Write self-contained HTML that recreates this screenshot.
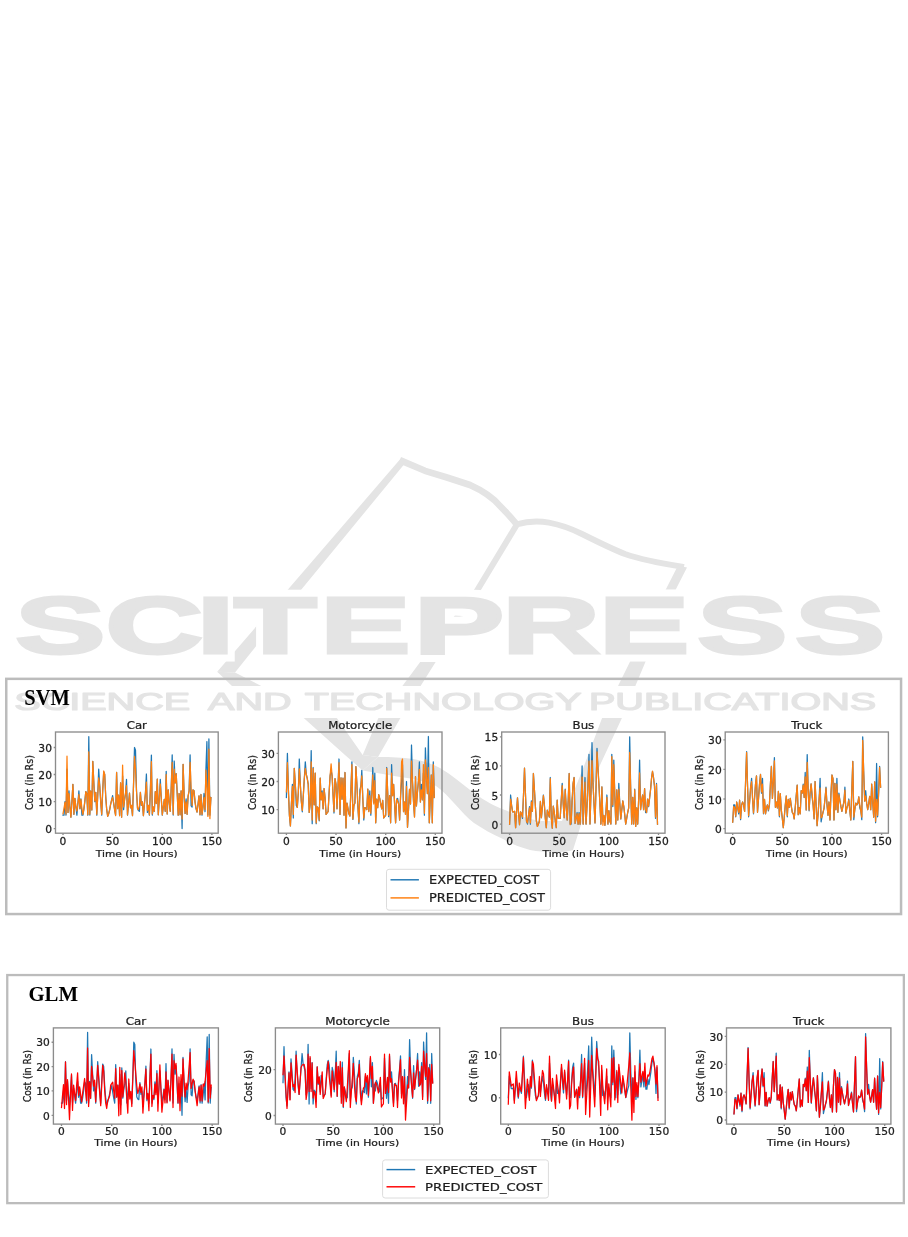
<!DOCTYPE html>
<html lang="en">
<head>
<meta charset="utf-8">
<title>SVM and GLM cost prediction</title>
<style>
html,body{margin:0;padding:0;background:#fff;}
body{width:908px;height:1237px;position:relative;overflow:hidden;font-family:"Liberation Serif",serif;}
svg{position:absolute;left:0;top:0;display:block;}
.fig{filter:blur(0.35px);}
.wm{filter:blur(0.5px);}
.fig text{stroke:#1e1e1e;stroke-width:0.25px;}
.fig text.lab{stroke:none;}
</style>
</head>
<body>
<svg class="wm" width="908" height="1237" viewBox="0 0 908 1237" aria-hidden="true">
<defs><filter id="halo" filterUnits="userSpaceOnUse" x="-20" y="-120" width="600" height="200"><feMorphology in="SourceAlpha" operator="dilate" radius="4 7" result="d"/><feFlood flood-color="#ffffff" result="w"/><feComposite in="w" in2="d" operator="in" result="h"/><feMerge><feMergeNode in="h"/><feMergeNode in="SourceGraphic"/></feMerge></filter></defs>
<g fill="none" stroke="#e4e4e4" stroke-linejoin="round" stroke-linecap="butt">
<path d="M402.8 461.4 L425 470.8 L447 477.5 L470 485 Q490 494 500 506 Q510 516 516.6 524.2" stroke-width="6.6" stroke-linecap="square"/>
<path d="M516.6 524.4 C528 521 540 521 549 522.6 C562 525 572 529 582 534 C598 542 612 549 625 554 C645 561 665 564 684 567" stroke-width="6"/>
</g>
<g fill="#e4e4e4" stroke="none">
<path d="M401.4 457.7 L217.2 671.8 L235 672.5 L301.8 589 L404 464.5 Z"/>
<path d="M217.2 671.8 L231.7 685.7 L304 718.2 L345 755 L362.7 770.5 L378 757 L362.7 755 L337 718.2 L260.8 685.7 L235 672.5 Z"/>
<path d="M514 523.5 L519.5 526 L481.5 589 L400 718.7 L378 757 L362.7 755 L378 718.7 L474.5 589 Z"/>
<path d="M378 757 C392 757 402 757.5 413 759 C424 761 432 764 440 768 C452 775 462 784 474 793 C485 801 494 806 505 810 C517 815 528 819 540 821 L562 821 L573 850 C566 852 560 852.5 553 852 C545 852 538 851.5 530 850 C520 847 511 844 503 839 C492 834 483 829 474 823 C461 813 450 796 436 786 C424 781 412 778 400 777 L362.7 770.5 Z"/>
<path d="M678 565.5 L687 567.5 L676 589 L621.6 718.7 L599.6 766 L573 850 L553 852 L562 821 L584 766 L601.8 718.7 L666 589 Z"/>
</g>
<rect x="0" y="686" width="908" height="32" fill="#ffffff"/>
<text transform="translate(0 653.2) scale(1.7 1)" x="9 62.1 115.7 137.6 188.4 243.5 295.5 352.4 410.1 467.6" y="0" font-family="'Liberation Sans',sans-serif" font-weight="bold" font-size="79.5" fill="#e4e4e4" stroke="#e4e4e4" stroke-width="4.0" vector-effect="non-scaling-stroke" stroke-linejoin="miter" filter="url(#halo)">SCITEPRESS</text>
<text transform="translate(0 710.2) scale(1.642 1)" y="0" font-family="'Liberation Sans',sans-serif" font-size="24.1" fill="#e4e4e4" stroke="#e4e4e4" stroke-width="1.2" vector-effect="non-scaling-stroke" stroke-linejoin="round"><tspan x="8.7">SCIENCE</tspan> <tspan x="126.7">AND</tspan> <tspan x="185.6">TECHNOLOGY</tspan> <tspan x="358.7">PUBLICATIONS</tspan></text>
</svg>
<svg class="fig" width="908" height="1237" viewBox="0 0 908 1237" font-family="'DejaVu Sans','Liberation Sans',sans-serif">
<rect x="6.25" y="678.85" width="894.8" height="235.2" fill="none" stroke="#bcbcbc" stroke-width="2.5"/>
<rect x="7.25" y="975.05" width="896.6" height="228.1" fill="none" stroke="#bcbcbc" stroke-width="2.3"/>
<g class="chart" id="svm-car">
<polyline points="63,815.1 64,815.1 65,801.6 66,815.1 67,769.1 68,812.4 69,790.8 69.9,807 70.9,817.2 71.9,801.6 72.9,784.3 73.9,814.3 74.9,798.3 75.9,807 76.9,815.1 77.9,802.9 78.9,790.8 79.9,808.6 80.9,798.9 81.9,815.1 82.9,815.1 83.8,809.7 84.8,801.6 85.8,791.6 86.8,793.5 87.8,815.1 88.8,736.7 89.8,815.1 90.8,791 91.8,809.9 92.8,761.3 93.8,782.6 94.8,801.6 95.8,792.4 96.8,815.1 97.7,796.2 98.7,769.1 99.7,785.4 100.7,801.6 101.7,815.1 102.7,790.8 103.7,771.8 104.7,774.5 105.7,796.2 106.7,809.7 107.7,816.4 108.7,813.7 109.7,809.7 110.6,804.3 111.6,800.2 112.6,795.6 113.6,802.9 114.6,809.7 115.6,815.1 116.6,772.4 117.6,808.6 118.6,795.1 119.6,815.6 120.6,782.9 121.6,817.2 122.6,775.9 123.6,809.7 124.5,800.2 125.5,793.5 126.5,779.4 127.5,815.1 128.5,804.3 129.5,793.2 130.5,807.8 131.5,805.4 132.5,815.6 133.5,785.4 134.5,747.5 135.5,750.2 136.5,790.8 137.5,808.3 138.4,810.5 139.4,811.3 140.4,792.4 141.4,805.4 142.4,801.8 143.4,815.6 144.4,804.3 145.4,793.5 146.4,774 147.4,812.4 148.4,805.4 149.4,815.1 150.4,788.1 151.4,755.1 152.3,815.1 153.3,807 154.3,811.3 155.3,791.6 156.3,803.5 157.3,779.1 158.3,814.8 159.3,798.9 160.3,779.4 161.3,798.9 162.3,815.1 163.3,807 164.3,799.4 165.2,811.3 166.2,771.3 167.2,814 168.2,789.9 169.2,801.6 170.2,811.3 171.2,788.1 172.2,754.8 173.2,815.1 174.2,761 175.2,782.9 176.2,773.7 177.2,793.5 178.2,815.1 179.1,793.5 180.1,814.8 181.1,790.8 182.1,828.6 183.1,764.3 184.1,793.5 185.1,813.5 186.1,798.9 187.1,814.3 188.1,796.2 189.1,790.8 190.1,754.8 191.1,805.9 192.1,807 193,789.9 194,790.8 195,801.6 196,808.3 197,812.1 198,804.3 199,795.9 200,814.8 201,794.5 202,815.1 203,807 204,793.5 205,811.6 205.9,770.2 206.9,741.6 207.9,815.1 208.9,738.9 209.9,815.1 210.9,797.5" fill="none" stroke="#1f77b4" stroke-width="1.25" stroke-linejoin="round" stroke-linecap="square"/>
<polyline points="63,813.7 64,808.3 65,802.4 66,814 67,756.2 68,812.4 69,793.5 69.9,807 70.9,817.2 71.9,801.6 72.9,784.3 73.9,814.3 74.9,798.3 75.9,807 76.9,811 77.9,802.9 78.9,794.5 79.9,808.6 80.9,799.4 81.9,808.3 82.9,814.3 83.8,809.7 84.8,801.6 85.8,791.6 86.8,793.5 87.8,814.8 88.8,751.8 89.8,814.3 90.8,791 91.8,809.9 92.8,761.3 93.8,782.6 94.8,801 95.8,792.4 96.8,814.3 97.7,796.2 98.7,777.8 99.7,785.4 100.7,801.6 101.7,814.3 102.7,790.8 103.7,771 104.7,774.5 105.7,796.2 106.7,809.7 107.7,816.4 108.7,813.7 109.7,809.7 110.6,804.3 111.6,800.2 112.6,797.5 113.6,802.9 114.6,809.7 115.6,815.6 116.6,772.4 117.6,808.6 118.6,795.1 119.6,815.6 120.6,782.9 121.6,817.2 122.6,765.1 123.6,807 124.5,800.2 125.5,793.5 126.5,785.6 127.5,814.8 128.5,804.3 129.5,793.2 130.5,807.8 131.5,805.4 132.5,815.6 133.5,785.4 134.5,756.4 135.5,769.1 136.5,790.8 137.5,808.3 138.4,809.7 139.4,805.6 140.4,792.4 141.4,805.4 142.4,801.8 143.4,815.6 144.4,804.3 145.4,793.5 146.4,782.1 147.4,810.5 148.4,805.4 149.4,814.8 150.4,789.9 151.4,761.6 152.3,814 153.3,807 154.3,811.3 155.3,791.6 156.3,803.5 157.3,779.1 158.3,814.8 159.3,798.9 160.3,784 161.3,798.9 162.3,814.8 163.3,807 164.3,799.4 165.2,811.3 166.2,774.5 167.2,814 168.2,789.9 169.2,801.6 170.2,811.3 171.2,788.1 172.2,762.4 173.2,814.3 174.2,769.1 175.2,782.9 176.2,773.7 177.2,793.5 178.2,815.1 179.1,793.5 180.1,814.8 181.1,790.8 182.1,819.1 183.1,764.3 184.1,793.5 185.1,813.5 186.1,801.8 187.1,814.3 188.1,796.2 189.1,790.8 190.1,762.4 191.1,788.1 192.1,805.4 193,789.9 194,790.8 195,801.6 196,808.3 197,812.1 198,804.3 199,795.9 200,814.8 201,794.5 202,814.3 203,807 204,797.5 205,809.7 205.9,770.2 206.9,788.1 207.9,816.4 208.9,749.1 209.9,818.6 210.9,797.5" fill="none" stroke="#ff7f0e" stroke-width="1.25" stroke-linejoin="round" stroke-linecap="square"/>
<rect x="55.5" y="732" width="162.7" height="101.2" fill="none" stroke="#8c8c8c" stroke-width="1.35"/>
<text transform="translate(63 844.9) scale(1.04 1)" font-size="10.3" text-anchor="middle" fill="#1e1e1e">0</text>
<text transform="translate(112.6 844.9) scale(1.04 1)" font-size="10.3" text-anchor="middle" fill="#1e1e1e">50</text>
<text transform="translate(162.3 844.9) scale(1.04 1)" font-size="10.3" text-anchor="middle" fill="#1e1e1e">100</text>
<text transform="translate(211.9 844.9) scale(1.04 1)" font-size="10.3" text-anchor="middle" fill="#1e1e1e">150</text>
<text transform="translate(52 833.1) scale(1.04 1)" font-size="10.3" text-anchor="end" fill="#1e1e1e">0</text>
<text transform="translate(52 806) scale(1.04 1)" font-size="10.3" text-anchor="end" fill="#1e1e1e">10</text>
<text transform="translate(52 779) scale(1.04 1)" font-size="10.3" text-anchor="end" fill="#1e1e1e">20</text>
<text transform="translate(52 752) scale(1.04 1)" font-size="10.3" text-anchor="end" fill="#1e1e1e">30</text>
<path d="M63 833.2v1.8M112.6 833.2v1.8M162.3 833.2v1.8M211.9 833.2v1.8M55.5 828.6h-1.8M55.5 801.6h-1.8M55.5 774.5h-1.8M55.5 747.5h-1.8" stroke="#8c8c8c" stroke-width="1.35" fill="none"/>
<text transform="translate(136.8 729) scale(1.114 1)" font-size="10.56" text-anchor="middle" fill="#1e1e1e">Car</text>
<text transform="translate(136.8 856.5) scale(1.114 1)" font-size="9.55" text-anchor="middle" fill="#1e1e1e">Time (in Hours)</text>
<text transform="translate(33 782.6) scale(1.114 1) rotate(-90)" font-size="9.55" text-anchor="middle" fill="#1e1e1e">Cost (in Rs)</text>
</g>
<g class="chart" id="svm-motorcycle">
<polyline points="286.4,797.5 287.4,753.4 288.4,789.9 289.4,815.2 290.4,825.9 291.4,804 292.4,784.3 293.3,818 294.3,768.3 295.3,784.3 296.3,805.4 297.3,807.4 298.3,792.7 299.3,759 300.3,784.3 301.3,801.2 302.3,811.8 303.3,795.6 304.3,778.7 305.3,761.8 306.3,774.5 307.2,778.1 308.2,784.3 309.2,812.4 310.2,804 311.2,750.6 312.2,823.7 313.2,767.5 314.2,804.8 315.2,773.1 316.2,823.7 317.2,806.8 318.2,808.2 319.2,820.8 320.2,778.1 321.1,799.8 322.1,790.8 323.1,808.8 324.1,788.5 325.1,798.4 326.1,814.4 327.1,813 328.1,811.6 329.1,792.7 330.1,775.9 331.1,770.3 332.1,775.9 333.1,795.6 334,813 335,778.7 336,784.3 337,808.8 338,787.1 339,759 340,814.4 341,777.8 342,799.2 343,778.1 344,815.2 345,772.5 346,827.9 347,803.1 347.9,808.2 348.9,813.8 349.9,816.1 350.9,789.9 351.9,761.8 352.9,819.4 353.9,805.4 354.9,803.1 355.9,766.6 356.9,784.3 357.9,806.8 358.9,823.7 359.9,789.9 360.9,785.7 361.8,770.3 362.8,798.4 363.8,820 364.8,807.6 365.8,808.2 366.8,809.6 367.8,789.1 368.8,811.3 369.8,790.8 370.8,815.2 371.8,795.6 372.8,767.5 373.8,802.6 374.8,773.1 375.7,822.8 376.7,799.2 377.7,807.6 378.7,794.7 379.7,798.4 380.7,804 381.7,808.8 382.7,800.3 383.7,818 384.7,816.6 385.7,815.2 386.7,767.5 387.7,792.7 388.6,816.6 389.6,795.6 390.6,822.8 391.6,764.6 392.6,795.6 393.6,784.3 394.6,804 395.6,822.8 396.6,799.2 397.6,798.4 398.6,804 399.6,820 400.6,795.6 401.6,781.5 402.5,764.6 403.5,811.6 404.5,802 405.5,814.4 406.5,781.5 407.5,827.3 408.5,809.6 409.5,789.9 410.5,804 411.5,745 412.5,781.5 413.5,801.2 414.5,816.6 415.5,776.7 416.4,805.9 417.4,792.7 418.4,781.5 419.4,761.8 420.4,802 421.4,784.3 422.4,799.8 423.4,773.1 424.4,815.2 425.4,747.8 426.4,775.9 427.4,793.6 428.4,736.5 429.3,822.8 430.3,798.4 431.3,775 432.3,822.8 433.3,761.8 434.3,797.5" fill="none" stroke="#1f77b4" stroke-width="1.25" stroke-linejoin="round" stroke-linecap="square"/>
<polyline points="286.4,791.9 287.4,762.7 288.4,789.9 289.4,815.2 290.4,825.9 291.4,804 292.4,786.3 293.3,814.4 294.3,768.3 295.3,784.3 296.3,798.4 297.3,807.4 298.3,792.7 299.3,768.9 300.3,784.3 301.3,801.2 302.3,810.4 303.3,795.6 304.3,778.7 305.3,768.3 306.3,774.5 307.2,778.1 308.2,784.3 309.2,812.4 310.2,804 311.2,761.8 312.2,820 313.2,768.3 314.2,804.8 315.2,773.1 316.2,822.8 317.2,806.8 318.2,808.2 319.2,820 320.2,778.1 321.1,799.8 322.1,792.7 323.1,808.8 324.1,788.5 325.1,798.4 326.1,814.4 327.1,813 328.1,811.6 329.1,792.7 330.1,775.9 331.1,763.8 332.1,775.9 333.1,795.6 334,811.6 335,778.7 336,784.3 337,808.8 338,787.1 339,762.7 340,814.4 341,777.8 342,799.2 343,778.1 344,815.2 345,772.5 346,827.9 347,803.1 347.9,808.2 348.9,813.8 349.9,816.1 350.9,789.9 351.9,764.6 352.9,818.9 353.9,805.4 354.9,803.1 355.9,766.6 356.9,784.3 357.9,806.8 358.9,822.2 359.9,795.6 360.9,785.7 361.8,775.9 362.8,798.4 363.8,818 364.8,807.6 365.8,808.2 366.8,809.6 367.8,789.1 368.8,811.6 369.8,795.6 370.8,813.3 371.8,795.6 372.8,775 373.8,804 374.8,780.7 375.7,822.8 376.7,799.2 377.7,807.6 378.7,794.7 379.7,798.4 380.7,804 381.7,808.8 382.7,800.3 383.7,818 384.7,816.6 385.7,815.2 386.7,768.3 387.7,792.7 388.6,815.2 389.6,795.6 390.6,822.8 391.6,773.1 392.6,795.6 393.6,784.3 394.6,804 395.6,822.8 396.6,799.2 397.6,801.2 398.6,804 399.6,820 400.6,795.6 401.6,761.8 402.5,759 403.5,811.6 404.5,802 405.5,814.4 406.5,786.3 407.5,827.3 408.5,809.6 409.5,789.1 410.5,804 411.5,761 412.5,781.5 413.5,801.2 414.5,817.2 415.5,776.7 416.4,805.9 417.4,792.7 418.4,781.5 419.4,769.4 420.4,802 421.4,789.9 422.4,799.8 423.4,764.6 424.4,813.3 425.4,759.9 426.4,775.9 427.4,793.6 428.4,767.5 429.3,822.8 430.3,798.4 431.3,775 432.3,822.8 433.3,764.6 434.3,797.5" fill="none" stroke="#ff7f0e" stroke-width="1.25" stroke-linejoin="round" stroke-linecap="square"/>
<rect x="278.4" y="732" width="163.6" height="101.2" fill="none" stroke="#8c8c8c" stroke-width="1.35"/>
<text transform="translate(286.4 844.9) scale(1.04 1)" font-size="10.3" text-anchor="middle" fill="#1e1e1e">0</text>
<text transform="translate(336 844.9) scale(1.04 1)" font-size="10.3" text-anchor="middle" fill="#1e1e1e">50</text>
<text transform="translate(385.7 844.9) scale(1.04 1)" font-size="10.3" text-anchor="middle" fill="#1e1e1e">100</text>
<text transform="translate(435.3 844.9) scale(1.04 1)" font-size="10.3" text-anchor="middle" fill="#1e1e1e">150</text>
<text transform="translate(274.9 814.1) scale(1.04 1)" font-size="10.3" text-anchor="end" fill="#1e1e1e">10</text>
<text transform="translate(274.9 786) scale(1.04 1)" font-size="10.3" text-anchor="end" fill="#1e1e1e">20</text>
<text transform="translate(274.9 757.9) scale(1.04 1)" font-size="10.3" text-anchor="end" fill="#1e1e1e">30</text>
<path d="M286.4 833.2v1.8M336 833.2v1.8M385.7 833.2v1.8M435.3 833.2v1.8M278.4 809.6h-1.8M278.4 781.5h-1.8M278.4 753.4h-1.8" stroke="#8c8c8c" stroke-width="1.35" fill="none"/>
<text transform="translate(360.2 729) scale(1.114 1)" font-size="10.56" text-anchor="middle" fill="#1e1e1e">Motorcycle</text>
<text transform="translate(360.2 856.5) scale(1.114 1)" font-size="9.55" text-anchor="middle" fill="#1e1e1e">Time (in Hours)</text>
<text transform="translate(256 782.6) scale(1.114 1) rotate(-90)" font-size="9.55" text-anchor="middle" fill="#1e1e1e">Cost (in Rs)</text>
</g>
<g class="chart" id="svm-bus">
<polyline points="509.6,824.1 510.6,795 511.6,805.5 512.6,811.9 513.6,811.9 514.6,811.3 515.6,827.6 516.5,812.5 517.5,797.9 518.5,812.5 519.5,824.7 520.5,811.9 521.5,813.6 522.5,818.3 523.5,795 524.5,768.2 525.5,795 526.5,821.2 527.5,824.1 528.5,815.4 529.5,806.6 530.4,824.1 531.4,800.8 532.4,811.3 533.4,773.5 534.4,789.2 535.4,806.6 536.4,821.2 537.4,826.4 538.4,824.1 539.4,821.2 540.4,801.4 541.4,817.7 542.4,806.6 543.4,795 544.3,803.7 545.3,818.3 546.3,827.6 547.3,810.1 548.3,813.6 549.3,817.1 550.3,777.5 551.3,818.3 552.3,828.2 553.3,806.1 554.3,812.5 555.3,821.2 556.3,827.6 557.2,800.2 558.2,818.3 559.2,818.3 560.2,818.3 561.2,800.8 562.2,783.4 563.2,803.7 564.2,817.7 565.2,789.2 566.2,806.6 567.2,820 568.2,800.8 569.2,773.5 570.2,824.1 571.1,824.1 572.1,800.8 573.1,783.4 574.1,777.5 575.1,823.5 576.1,818.3 577.1,812.5 578.1,824.1 579.1,812.5 580.1,824.1 581.1,800.8 582.1,765.9 583.1,824.1 584.1,800.8 585,777.5 586,824.1 587,806.6 588,783.4 589,754.3 590,824.1 591,792.1 592,742.6 593,783.4 594,803.7 595,822.9 596,789.2 597,748.4 598,768.8 598.9,783.4 599.9,803.7 600.9,824.1 601.9,786.9 602.9,821.2 603.9,815.4 604.9,825.3 605.9,812.5 606.9,795 607.9,824.1 608.9,810.7 609.9,821.2 610.9,824.1 611.8,754.3 612.8,806.6 613.8,760.1 614.8,795 615.8,824.1 616.8,789.8 617.8,820 618.8,783.4 619.8,803.7 620.8,818.9 621.8,809.6 622.8,800.8 623.8,806.6 624.8,815.4 625.7,824.1 626.7,818.3 627.7,812.5 628.7,807.8 629.7,736.8 630.7,789.2 631.7,824.1 632.7,797.3 633.7,824.1 634.7,789.2 635.7,826.4 636.7,807.8 637.7,824.1 638.7,797.9 639.6,760.1 640.6,809.6 641.6,800.8 642.6,795 643.6,809.6 644.6,788.6 645.6,812.5 646.6,812.5 647.6,799.1 648.6,806.6 649.6,797.9 650.6,789.2 651.6,777.5 652.5,771.7 653.5,777.5 654.5,786.3 655.5,818.3 656.5,783.4 657.5,824.1" fill="none" stroke="#1f77b4" stroke-width="1.25" stroke-linejoin="round" stroke-linecap="square"/>
<polyline points="509.6,824.1 510.6,799.1 511.6,805.5 512.6,811.9 513.6,811.9 514.6,811.3 515.6,827.6 516.5,812.5 517.5,797.9 518.5,812.5 519.5,824.7 520.5,811.9 521.5,813.6 522.5,817.1 523.5,795 524.5,768.2 525.5,795 526.5,821.2 527.5,822.9 528.5,815.4 529.5,807.8 530.4,822.9 531.4,802 532.4,811.3 533.4,773.5 534.4,789.2 535.4,806.6 536.4,821.2 537.4,826.4 538.4,824.1 539.4,821.2 540.4,801.4 541.4,817.7 542.4,806.6 543.4,795.6 544.3,803.7 545.3,818.3 546.3,827.6 547.3,810.1 548.3,813.6 549.3,817.1 550.3,778.7 551.3,818.3 552.3,828.2 553.3,806.1 554.3,812.5 555.3,821.2 556.3,827.6 557.2,800.2 558.2,818.3 559.2,818.3 560.2,818.3 561.2,800.8 562.2,785.7 563.2,803.7 564.2,817.7 565.2,789.8 566.2,806.6 567.2,820 568.2,800.8 569.2,773.5 570.2,824.7 571.1,822.4 572.1,800.8 573.1,783.4 574.1,777.5 575.1,823.5 576.1,818.3 577.1,813.6 578.1,824.1 579.1,813.6 580.1,824.1 581.1,800.8 582.1,777 583.1,824.1 584.1,800.8 585,782.2 586,824.1 587,806.6 588,783.4 589,761.2 590,824.1 591,792.1 592,760.7 593,783.4 594,803.7 595,822.9 596,789.2 597,751.9 598,768.8 598.9,784.5 599.9,803.7 600.9,824.1 601.9,786.9 602.9,825.3 603.9,815.4 604.9,825.3 605.9,812.5 606.9,797.3 607.9,824.1 608.9,810.7 609.9,821.2 610.9,824.1 611.8,756.6 612.8,804.9 613.8,764.7 614.8,795 615.8,824.1 616.8,789.8 617.8,820 618.8,789.2 619.8,803.7 620.8,818.9 621.8,809.6 622.8,800.8 623.8,806.6 624.8,815.4 625.7,824.1 626.7,818.3 627.7,812.5 628.7,807.8 629.7,752.5 630.7,789.2 631.7,824.1 632.7,797.3 633.7,824.1 634.7,789.8 635.7,826.4 636.7,807.8 637.7,824.1 638.7,797.9 639.6,772.9 640.6,809.6 641.6,800.8 642.6,795 643.6,809.6 644.6,788.6 645.6,809.6 646.6,812.5 647.6,799.1 648.6,806.1 649.6,797.9 650.6,789.2 651.6,777.5 652.5,771.1 653.5,777.5 654.5,786.3 655.5,817.1 656.5,784.5 657.5,824.1" fill="none" stroke="#ff7f0e" stroke-width="1.25" stroke-linejoin="round" stroke-linecap="square"/>
<rect x="501.7" y="732" width="163.3" height="101.2" fill="none" stroke="#8c8c8c" stroke-width="1.35"/>
<text transform="translate(509.6 844.9) scale(1.04 1)" font-size="10.3" text-anchor="middle" fill="#1e1e1e">0</text>
<text transform="translate(559.2 844.9) scale(1.04 1)" font-size="10.3" text-anchor="middle" fill="#1e1e1e">50</text>
<text transform="translate(608.9 844.9) scale(1.04 1)" font-size="10.3" text-anchor="middle" fill="#1e1e1e">100</text>
<text transform="translate(658.5 844.9) scale(1.04 1)" font-size="10.3" text-anchor="middle" fill="#1e1e1e">150</text>
<text transform="translate(498.2 828.6) scale(1.04 1)" font-size="10.3" text-anchor="end" fill="#1e1e1e">0</text>
<text transform="translate(498.2 799.5) scale(1.04 1)" font-size="10.3" text-anchor="end" fill="#1e1e1e">5</text>
<text transform="translate(498.2 770.4) scale(1.04 1)" font-size="10.3" text-anchor="end" fill="#1e1e1e">10</text>
<text transform="translate(498.2 741.3) scale(1.04 1)" font-size="10.3" text-anchor="end" fill="#1e1e1e">15</text>
<path d="M509.6 833.2v1.8M559.2 833.2v1.8M608.9 833.2v1.8M658.5 833.2v1.8M501.7 824.1h-1.8M501.7 795h-1.8M501.7 765.9h-1.8M501.7 736.8h-1.8" stroke="#8c8c8c" stroke-width="1.35" fill="none"/>
<text transform="translate(583.4 729) scale(1.114 1)" font-size="10.56" text-anchor="middle" fill="#1e1e1e">Bus</text>
<text transform="translate(583.4 856.5) scale(1.114 1)" font-size="9.55" text-anchor="middle" fill="#1e1e1e">Time (in Hours)</text>
<text transform="translate(479 782.6) scale(1.114 1) rotate(-90)" font-size="9.55" text-anchor="middle" fill="#1e1e1e">Cost (in Rs)</text>
</g>
<g class="chart" id="svm-truck">
<polyline points="732.7,822.1 733.7,804.9 734.7,804.9 735.7,816.8 736.7,802 737.7,807.9 738.7,813.8 739.6,800.2 740.6,819.7 741.6,804.9 742.6,802 743.6,804.9 744.6,811.4 745.6,781.2 746.6,751.6 747.6,787.2 748.6,816.8 749.6,802 750.6,787.2 751.6,778.3 752.6,799 753.5,813.8 754.5,799 755.5,784.2 756.5,775.9 757.5,812.3 758.5,799 759.5,784.2 760.5,774.4 761.5,793.1 762.5,778.3 763.5,813.8 764.5,799.3 765.5,813.8 766.5,807.9 767.4,804.9 768.4,810.8 769.4,804.9 770.4,784.2 771.4,766.4 772.4,798.4 773.4,781.2 774.4,757.6 775.4,807.3 776.4,802 777.4,807.9 778.4,791.3 779.4,816.8 780.3,793.7 781.3,809.7 782.3,818.2 783.3,827.7 784.3,816.8 785.3,804.9 786.3,796 787.3,816.8 788.3,799.3 789.3,807.3 790.3,798.4 791.3,806.4 792.3,812.3 793.3,813.8 794.2,818.8 795.2,807.9 796.2,796 797.2,785.1 798.2,814.7 799.2,807.6 800.2,813.8 801.2,790.7 802.2,793.1 803.2,784.2 804.2,797.5 805.2,772.4 806.2,810 807.2,754.6 808.1,787.2 809.1,810.8 810.1,793.1 811.1,783.9 812.1,797.5 813.1,804.9 814.1,818.8 815.1,781.5 816.1,804.9 817.1,825.6 818.1,813.8 819.1,799 820.1,778.3 821.1,821.8 822,816.8 823,812.3 824,808.8 825,799 826,787.2 827,804.9 828,815.3 829,802 830,820 831,793.1 832,775 833,778.9 834,820 834.9,783.3 835.9,809.7 836.9,778.3 837.9,812.3 838.9,793.1 839.9,800.5 840.9,806.4 841.9,811.4 842.9,806.4 843.9,802 844.9,787.2 845.9,813.2 846.9,807.9 847.9,804.9 848.8,799 849.8,810.8 850.8,820 851.8,790.1 852.8,761.4 853.8,819.7 854.8,809.4 855.8,803.1 856.8,804.9 857.8,803.4 858.8,796.9 859.8,807.9 860.8,810.8 861.8,819.7 862.7,736.8 863.7,772.4 864.7,801.1 865.7,790.7 866.7,803.4 867.7,809.7 868.7,803.4 869.7,796.3 870.7,809.7 871.7,784.2 872.7,802 873.7,817.1 874.7,781.8 875.6,822.7 876.6,763.5 877.6,816.8 878.6,793.1 879.6,766.4 880.6,787.2" fill="none" stroke="#1f77b4" stroke-width="1.25" stroke-linejoin="round" stroke-linecap="square"/>
<polyline points="732.7,822.1 733.7,806.4 734.7,807.9 735.7,816.2 736.7,802 737.7,807.9 738.7,812.3 739.6,800.2 740.6,818.5 741.6,804.9 742.6,802 743.6,804.9 744.6,811.4 745.6,781.2 746.6,752.5 747.6,787.2 748.6,815.6 749.6,802 750.6,787.2 751.6,781.5 752.6,799 753.5,812.9 754.5,799 755.5,784.2 756.5,775.9 757.5,812.3 758.5,799 759.5,784.2 760.5,774.4 761.5,791.9 762.5,784.2 763.5,813.2 764.5,799.3 765.5,813.8 766.5,807.9 767.4,804.9 768.4,810 769.4,804.9 770.4,784.2 771.4,766.4 772.4,798.4 773.4,781.2 774.4,760.8 775.4,807.3 776.4,802 777.4,807.9 778.4,791.3 779.4,815.6 780.3,793.7 781.3,809.7 782.3,818.2 783.3,827.7 784.3,816.8 785.3,804.9 786.3,796 787.3,815.6 788.3,799.3 789.3,807.3 790.3,798.4 791.3,806.4 792.3,812.3 793.3,813.8 794.2,818.8 795.2,807.9 796.2,796 797.2,785.1 798.2,814.7 799.2,807.6 800.2,813.8 801.2,790.7 802.2,793.1 803.2,785.1 804.2,797.5 805.2,776.8 806.2,810 807.2,762.3 808.1,787.2 809.1,810 810.1,793.1 811.1,783.9 812.1,793.1 813.1,804.9 814.1,818.8 815.1,781.5 816.1,804.9 817.1,825.6 818.1,813.8 819.1,799 820.1,788 821.1,817.9 822,816.8 823,812.3 824,807.9 825,799 826,788 827,804.9 828,815.3 829,802 830,820 831,793.1 832,775 833,778.9 834,820 834.9,783.3 835.9,809.7 836.9,784.2 837.9,812.3 838.9,794.6 839.9,800.5 840.9,806.4 841.9,811.4 842.9,806.4 843.9,802 844.9,790.1 845.9,813.2 846.9,807.9 847.9,804.9 848.8,800.2 849.8,810.8 850.8,820 851.8,790.1 852.8,761.4 853.8,817.1 854.8,809.4 855.8,803.1 856.8,804.9 857.8,803.4 858.8,796.9 859.8,804.9 860.8,810.8 861.8,817.1 862.7,740.4 863.7,772.4 864.7,801.1 865.7,796 866.7,803.4 867.7,809.7 868.7,803.4 869.7,796.3 870.7,809.7 871.7,784.2 872.7,802 873.7,817.1 874.7,781.8 875.6,821.2 876.6,799.3 877.6,815.3 878.6,793.1 879.6,767.3 880.6,787.2" fill="none" stroke="#ff7f0e" stroke-width="1.25" stroke-linejoin="round" stroke-linecap="square"/>
<rect x="725.2" y="732" width="163.2" height="101.2" fill="none" stroke="#8c8c8c" stroke-width="1.35"/>
<text transform="translate(732.7 844.9) scale(1.04 1)" font-size="10.3" text-anchor="middle" fill="#1e1e1e">0</text>
<text transform="translate(782.3 844.9) scale(1.04 1)" font-size="10.3" text-anchor="middle" fill="#1e1e1e">50</text>
<text transform="translate(832 844.9) scale(1.04 1)" font-size="10.3" text-anchor="middle" fill="#1e1e1e">100</text>
<text transform="translate(881.6 844.9) scale(1.04 1)" font-size="10.3" text-anchor="middle" fill="#1e1e1e">150</text>
<text transform="translate(721.7 833.1) scale(1.04 1)" font-size="10.3" text-anchor="end" fill="#1e1e1e">0</text>
<text transform="translate(721.7 803.5) scale(1.04 1)" font-size="10.3" text-anchor="end" fill="#1e1e1e">10</text>
<text transform="translate(721.7 773.9) scale(1.04 1)" font-size="10.3" text-anchor="end" fill="#1e1e1e">20</text>
<text transform="translate(721.7 744.3) scale(1.04 1)" font-size="10.3" text-anchor="end" fill="#1e1e1e">30</text>
<path d="M732.7 833.2v1.8M782.3 833.2v1.8M832 833.2v1.8M881.6 833.2v1.8M725.2 828.6h-1.8M725.2 799h-1.8M725.2 769.4h-1.8M725.2 739.8h-1.8" stroke="#8c8c8c" stroke-width="1.35" fill="none"/>
<text transform="translate(806.8 729) scale(1.114 1)" font-size="10.56" text-anchor="middle" fill="#1e1e1e">Truck</text>
<text transform="translate(806.8 856.5) scale(1.114 1)" font-size="9.55" text-anchor="middle" fill="#1e1e1e">Time (in Hours)</text>
<text transform="translate(702.5 782.6) scale(1.114 1) rotate(-90)" font-size="9.55" text-anchor="middle" fill="#1e1e1e">Cost (in Rs)</text>
</g>
<g class="legend">
<rect x="386.5" y="869.3" width="164.1" height="40.9" rx="2.5" ry="2.5" fill="#ffffff" fill-opacity="0.8" stroke="#dcdcdc" stroke-width="1"/>
<line x1="390.5" y1="879.8" x2="418.9" y2="879.8" stroke="#1f77b4" stroke-width="1.45"/>
<text transform="translate(429 884.2) scale(1.114 1)" font-size="11.65" text-anchor="start" fill="#1e1e1e">EXPECTED_COST</text>
<line x1="390.5" y1="897.9" x2="418.9" y2="897.9" stroke="#ff7f0e" stroke-width="1.45"/>
<text transform="translate(429 902.3) scale(1.114 1)" font-size="11.65" text-anchor="start" fill="#1e1e1e">PREDICTED_COST</text>
</g>
<g class="chart" id="glm-car">
<polyline points="61.5,1103.1 62.5,1103.1 63.5,1090.9 64.5,1103.1 65.5,1061.7 66.5,1100.7 67.5,1081.2 68.5,1095.8 69.5,1105.1 70.5,1090.9 71.5,1075.3 72.5,1102.4 73.6,1088 74.6,1095.8 75.6,1103.1 76.6,1092.1 77.6,1081.2 78.6,1097.3 79.6,1088.5 80.6,1103.1 81.6,1103.1 82.6,1098.2 83.6,1090.9 84.6,1081.9 85.6,1083.6 86.6,1103.1 87.6,1032.4 88.6,1103.1 89.6,1081.4 90.6,1098.5 91.6,1054.6 92.6,1073.9 93.6,1090.9 94.6,1082.6 95.7,1103.1 96.7,1086.1 97.7,1061.7 98.7,1076.3 99.7,1090.9 100.7,1103.1 101.7,1081.2 102.7,1064.1 103.7,1066.6 104.7,1086.1 105.7,1098.2 106.7,1104.3 107.7,1101.9 108.7,1098.2 109.7,1093.4 110.7,1089.7 111.7,1085.6 112.7,1092.1 113.7,1098.2 114.7,1103.1 115.7,1064.6 116.7,1097.3 117.8,1085.1 118.8,1103.6 119.8,1074.1 120.8,1105.1 121.8,1067.8 122.8,1098.2 123.8,1089.7 124.8,1083.6 125.8,1070.9 126.8,1103.1 127.8,1093.4 128.8,1083.4 129.8,1096.5 130.8,1094.3 131.8,1103.6 132.8,1076.3 133.8,1042.2 134.8,1044.6 135.8,1081.2 136.8,1097 137.8,1099 138.8,1099.7 139.9,1082.6 140.9,1094.3 141.9,1091.2 142.9,1103.6 143.9,1093.4 144.9,1083.6 145.9,1066.1 146.9,1100.7 147.9,1094.3 148.9,1103.1 149.9,1078.7 150.9,1049 151.9,1103.1 152.9,1095.8 153.9,1099.7 154.9,1081.9 155.9,1092.6 156.9,1070.7 157.9,1102.9 158.9,1088.5 159.9,1070.9 160.9,1088.5 161.9,1103.1 163,1095.8 164,1089 165,1099.7 166,1063.6 167,1102.1 168,1080.5 169,1090.9 170,1099.7 171,1078.7 172,1048.8 173,1103.1 174,1054.4 175,1074.1 176,1065.8 177,1083.6 178,1103.1 179,1083.6 180,1102.9 181,1081.2 182,1115.3 183,1057.3 184,1083.6 185.1,1101.7 186.1,1088.5 187.1,1102.4 188.1,1086.1 189.1,1081.2 190.1,1048.8 191.1,1094.8 192.1,1095.8 193.1,1080.5 194.1,1081.2 195.1,1090.9 196.1,1097 197.1,1100.4 198.1,1093.4 199.1,1085.8 200.1,1102.9 201.1,1084.6 202.1,1103.1 203.1,1095.8 204.1,1083.6 205.1,1099.9 206.1,1062.7 207.2,1036.8 208.2,1103.1 209.2,1034.4 210.2,1103.1 211.2,1087.3" fill="none" stroke="#1f77b4" stroke-width="1.25" stroke-linejoin="round" stroke-linecap="square"/>
<polyline points="61.5,1107.5 62.5,1095.8 63.5,1084.6 64.5,1108.5 65.5,1061.9 66.5,1104.6 67.5,1079.7 68.5,1098.2 69.5,1119.7 70.5,1095.8 71.5,1073.9 72.5,1110.4 73.6,1085.1 74.6,1093.4 75.6,1100.7 76.6,1086.1 77.6,1072.9 78.6,1095.3 79.6,1086.8 80.6,1094.6 81.6,1101.9 82.6,1093.4 83.6,1086.1 84.6,1078.5 85.6,1090.9 86.6,1100.7 87.6,1048 88.6,1106.5 89.6,1082.2 90.6,1098.2 91.6,1066.3 92.6,1076.3 93.6,1086.1 94.6,1080.2 95.7,1101.9 96.7,1083.6 97.7,1065.3 98.7,1078.7 99.7,1093.4 100.7,1105.6 101.7,1086.1 102.7,1065.3 103.7,1071.4 104.7,1090.9 105.7,1103.1 106.7,1108.5 107.7,1100.7 108.7,1098.2 109.7,1095.8 110.7,1085.1 111.7,1083.6 112.7,1082.2 113.7,1090.9 114.7,1098.2 115.7,1068.5 116.7,1097 117.8,1085.1 118.8,1115.8 119.8,1067.3 120.8,1114.6 121.8,1070.5 122.8,1097 123.8,1086.1 124.8,1072.9 125.8,1081.2 126.8,1098.2 127.8,1113.1 128.8,1079 129.8,1099 130.8,1091.4 131.8,1106.5 132.8,1078.7 133.8,1050.7 134.8,1061.7 135.8,1073.9 136.8,1086.1 137.8,1093.4 138.8,1089.7 139.9,1084.1 140.9,1092.4 141.9,1086.8 142.9,1113.1 143.9,1098.2 144.9,1083.6 145.9,1069 146.9,1099 147.9,1093.4 148.9,1110.7 149.9,1077.5 150.9,1054.1 151.9,1106.5 152.9,1095.3 153.9,1098.2 154.9,1084.1 155.9,1094.6 156.9,1073.6 157.9,1111.2 158.9,1088.5 159.9,1064.9 160.9,1088.5 161.9,1112.1 163,1100.7 164,1089.7 165,1102.9 166,1071.9 167,1102.9 168,1080.2 169,1090.9 170,1100.9 171,1078.7 172,1054.1 173,1107.5 174,1060.7 175,1069 176,1063.4 177,1081.2 178,1102.9 179,1077 180,1110.7 181,1074.6 182,1096.3 183,1058.8 184,1078.7 185.1,1097 186.1,1083.1 187.1,1089.7 188.1,1080.2 189.1,1066.6 190.1,1052.7 191.1,1088.5 192.1,1083.6 193.1,1079.2 194.1,1081.2 195.1,1090.9 196.1,1098.2 197.1,1105.6 198.1,1095.8 199.1,1086.8 200.1,1100.9 201.1,1085.3 202.1,1100.9 203.1,1084.1 204.1,1086.1 205.1,1081.2 206.1,1071.4 207.2,1060.7 208.2,1101.9 209.2,1048.5 210.2,1098.2 211.2,1085.1" fill="none" stroke="#ff0000" stroke-width="1.25" stroke-linejoin="round" stroke-linecap="square"/>
<rect x="53.4" y="1027.9" width="165" height="96.2" fill="none" stroke="#8c8c8c" stroke-width="1.35"/>
<text transform="translate(61.5 1135.3) scale(1.1 1)" font-size="9.7" text-anchor="middle" fill="#1e1e1e">0</text>
<text transform="translate(111.7 1135.3) scale(1.1 1)" font-size="9.7" text-anchor="middle" fill="#1e1e1e">50</text>
<text transform="translate(161.9 1135.3) scale(1.1 1)" font-size="9.7" text-anchor="middle" fill="#1e1e1e">100</text>
<text transform="translate(212.2 1135.3) scale(1.1 1)" font-size="9.7" text-anchor="middle" fill="#1e1e1e">150</text>
<text transform="translate(49.9 1119.5) scale(1.1 1)" font-size="9.7" text-anchor="end" fill="#1e1e1e">0</text>
<text transform="translate(49.9 1095.2) scale(1.1 1)" font-size="9.7" text-anchor="end" fill="#1e1e1e">10</text>
<text transform="translate(49.9 1070.8) scale(1.1 1)" font-size="9.7" text-anchor="end" fill="#1e1e1e">20</text>
<text transform="translate(49.9 1046.4) scale(1.1 1)" font-size="9.7" text-anchor="end" fill="#1e1e1e">30</text>
<path d="M61.5 1124.1v1.8M111.7 1124.1v1.8M161.9 1124.1v1.8M212.2 1124.1v1.8M53.4 1115.3h-1.8M53.4 1090.9h-1.8M53.4 1066.6h-1.8M53.4 1042.2h-1.8" stroke="#8c8c8c" stroke-width="1.35" fill="none"/>
<text transform="translate(135.9 1025.3) scale(1.2 1)" font-size="9.9" text-anchor="middle" fill="#1e1e1e">Car</text>
<text transform="translate(135.9 1146.1) scale(1.2 1)" font-size="9.0" text-anchor="middle" fill="#1e1e1e">Time (in Hours)</text>
<text transform="translate(30.5 1076) scale(1.2 1) rotate(-90)" font-size="9.0" text-anchor="middle" fill="#1e1e1e">Cost (in Rs)</text>
</g>
<g class="chart" id="glm-motorcycle">
<polyline points="283,1082.7 284,1046.6 285,1076.5 286,1097.1 287,1105.9 288,1087.9 289,1071.9 290,1099.4 291,1058.8 292,1071.9 293,1089.1 294,1090.7 295.1,1078.7 296.1,1051.2 297.1,1071.9 298.1,1085.6 299.1,1094.4 300.1,1081 301.1,1067.3 302.1,1053.5 303.1,1063.8 304.1,1066.8 305.1,1071.9 306.1,1094.8 307.1,1087.9 308.1,1044.3 309.1,1104 310.1,1058.1 311.1,1088.6 312.1,1062.7 313.1,1104 314.1,1090.2 315.1,1091.4 316.1,1101.7 317.2,1066.8 318.2,1084.5 319.2,1077.1 320.2,1091.8 321.2,1075.3 322.2,1083.3 323.2,1096.4 324.2,1095.3 325.2,1094.1 326.2,1078.7 327.2,1065 328.2,1060.4 329.2,1065 330.2,1081 331.2,1095.3 332.2,1067.3 333.2,1071.9 334.2,1091.8 335.2,1074.2 336.2,1051.2 337.2,1096.4 338.2,1066.6 339.3,1084 340.3,1066.8 341.3,1097.1 342.3,1062.2 343.3,1107.5 344.3,1087.2 345.3,1091.4 346.3,1096 347.3,1097.8 348.3,1076.5 349.3,1053.5 350.3,1100.6 351.3,1089.1 352.3,1087.2 353.3,1057.4 354.3,1071.9 355.3,1090.2 356.3,1104 357.3,1076.5 358.3,1073 359.3,1060.4 360.3,1083.3 361.4,1101 362.4,1090.9 363.4,1091.4 364.4,1092.5 365.4,1075.8 366.4,1093.9 367.4,1077.1 368.4,1097.1 369.4,1081 370.4,1058.1 371.4,1086.8 372.4,1062.7 373.4,1103.3 374.4,1084 375.4,1090.9 376.4,1080.4 377.4,1083.3 378.4,1087.9 379.4,1091.8 380.4,1084.9 381.4,1099.4 382.4,1098.3 383.4,1097.1 384.5,1058.1 385.5,1078.7 386.5,1098.3 387.5,1081 388.5,1103.3 389.5,1055.8 390.5,1081 391.5,1071.9 392.5,1087.9 393.5,1103.3 394.5,1084 395.5,1083.3 396.5,1087.9 397.5,1101 398.5,1081 399.5,1069.6 400.5,1055.8 401.5,1094.1 402.5,1086.3 403.5,1096.4 404.5,1069.6 405.5,1107 406.6,1092.5 407.6,1076.5 408.6,1087.9 409.6,1039.7 410.6,1069.6 411.6,1085.6 412.6,1098.3 413.6,1065.7 414.6,1089.5 415.6,1078.7 416.6,1069.6 417.6,1053.5 418.6,1086.3 419.6,1071.9 420.6,1084.5 421.6,1062.7 422.6,1097.1 423.6,1042 424.6,1065 425.6,1079.4 426.6,1032.8 427.6,1103.3 428.7,1083.3 429.7,1064.3 430.7,1103.3 431.7,1053.5 432.7,1082.7" fill="none" stroke="#1f77b4" stroke-width="1.25" stroke-linejoin="round" stroke-linecap="square"/>
<polyline points="283,1074.6 284,1056 285,1074.2 286,1092.5 287,1108.4 288,1090.2 289,1072.8 290,1099.9 291,1062.9 292,1076.5 293,1086.8 294,1084.5 295.1,1092.5 296.1,1055.1 297.1,1069.6 298.1,1083.3 299.1,1094.4 300.1,1081 301.1,1067.3 302.1,1065.2 303.1,1064.5 304.1,1064.3 305.1,1069.6 306.1,1099.4 307.1,1092.5 308.1,1054.2 309.1,1091.6 310.1,1056.5 311.1,1091.6 312.1,1062.9 313.1,1098 314.1,1091.6 315.1,1094.8 316.1,1107.5 317.2,1066.8 318.2,1083.3 319.2,1076.9 320.2,1094.4 321.2,1083.3 322.2,1071.9 323.2,1098.5 324.2,1096 325.2,1093.4 326.2,1081 327.2,1069.6 328.2,1061.5 329.2,1076.5 330.2,1085.6 331.2,1097.1 332.2,1070.9 333.2,1081 334.2,1089.5 335.2,1076.5 336.2,1062.4 337.2,1096.2 338.2,1066.3 339.3,1084 340.3,1061.5 341.3,1103.3 342.3,1067.7 343.3,1106.5 344.3,1086.8 345.3,1094.8 346.3,1101.7 347.3,1087.9 348.3,1069.6 349.3,1050.7 350.3,1107.5 351.3,1092.5 352.3,1078.7 353.3,1063.4 354.3,1083.3 355.3,1097.1 356.3,1101.7 357.3,1078.5 358.3,1076.5 359.3,1064.3 360.3,1092.5 361.4,1104.7 362.4,1094.8 363.4,1088.2 364.4,1086.8 365.4,1073.7 366.4,1082.2 367.4,1075.5 368.4,1095.3 369.4,1076.5 370.4,1056.5 371.4,1078.7 372.4,1066.3 373.4,1103.3 374.4,1092.5 375.4,1082.2 376.4,1083.8 377.4,1087.9 378.4,1093 379.4,1085.6 380.4,1077.4 381.4,1107 382.4,1105.2 383.4,1103.8 384.5,1054.2 385.5,1093.4 386.5,1087.9 387.5,1077.4 388.5,1092.5 389.5,1054.2 390.5,1082.2 391.5,1078.7 392.5,1092.5 393.5,1106.5 394.5,1084 395.5,1085.2 396.5,1085.6 397.5,1107.5 398.5,1083.3 399.5,1071.9 400.5,1059.7 401.5,1098 402.5,1076.5 403.5,1103.8 404.5,1076.9 405.5,1120.1 406.6,1101.7 407.6,1084.9 408.6,1087.9 409.6,1057.4 410.6,1071.9 411.6,1085.6 412.6,1097.1 413.6,1072.8 414.6,1088.6 415.6,1078.7 416.6,1069.6 417.6,1060.1 418.6,1076.5 419.6,1085.9 420.6,1083.3 421.6,1066.3 422.6,1099.4 423.6,1051.2 424.6,1065 425.6,1076.5 426.6,1053.5 427.6,1100.8 428.7,1067.7 429.7,1070.9 430.7,1100.8 431.7,1064.3 432.7,1083.1" fill="none" stroke="#ff0000" stroke-width="1.25" stroke-linejoin="round" stroke-linecap="square"/>
<rect x="275.4" y="1027.9" width="164.3" height="96.2" fill="none" stroke="#8c8c8c" stroke-width="1.35"/>
<text transform="translate(283 1135.3) scale(1.1 1)" font-size="9.7" text-anchor="middle" fill="#1e1e1e">0</text>
<text transform="translate(333.2 1135.3) scale(1.1 1)" font-size="9.7" text-anchor="middle" fill="#1e1e1e">50</text>
<text transform="translate(383.4 1135.3) scale(1.1 1)" font-size="9.7" text-anchor="middle" fill="#1e1e1e">100</text>
<text transform="translate(433.7 1135.3) scale(1.1 1)" font-size="9.7" text-anchor="middle" fill="#1e1e1e">150</text>
<text transform="translate(271.9 1119.7) scale(1.1 1)" font-size="9.7" text-anchor="end" fill="#1e1e1e">0</text>
<text transform="translate(271.9 1073.8) scale(1.1 1)" font-size="9.7" text-anchor="end" fill="#1e1e1e">20</text>
<path d="M283 1124.1v1.8M333.2 1124.1v1.8M383.4 1124.1v1.8M433.7 1124.1v1.8M275.4 1115.5h-1.8M275.4 1069.6h-1.8" stroke="#8c8c8c" stroke-width="1.35" fill="none"/>
<text transform="translate(357.5 1025.3) scale(1.2 1)" font-size="9.9" text-anchor="middle" fill="#1e1e1e">Motorcycle</text>
<text transform="translate(357.5 1146.1) scale(1.2 1)" font-size="9.0" text-anchor="middle" fill="#1e1e1e">Time (in Hours)</text>
<text transform="translate(252 1076) scale(1.2 1) rotate(-90)" font-size="9.0" text-anchor="middle" fill="#1e1e1e">Cost (in Rs)</text>
</g>
<g class="chart" id="glm-bus">
<polyline points="508.3,1097.7 509.3,1076.1 510.3,1083.9 511.3,1088.6 512.3,1088.6 513.3,1088.2 514.3,1100.3 515.3,1089.1 516.3,1078.3 517.3,1089.1 518.3,1098.1 519.3,1088.6 520.4,1089.9 521.4,1093.4 522.4,1076.1 523.4,1056.2 524.4,1076.1 525.4,1095.5 526.4,1097.7 527.4,1091.2 528.4,1084.7 529.4,1097.7 530.4,1080.4 531.4,1088.2 532.4,1060.1 533.4,1071.8 534.4,1084.7 535.4,1095.5 536.4,1099.4 537.4,1097.7 538.4,1095.5 539.4,1080.9 540.4,1092.9 541.4,1084.7 542.5,1076.1 543.5,1082.6 544.5,1093.4 545.5,1100.3 546.5,1087.3 547.5,1089.9 548.5,1092.5 549.5,1063.1 550.5,1093.4 551.5,1100.7 552.5,1084.3 553.5,1089.1 554.5,1095.5 555.5,1100.3 556.5,1080 557.5,1093.4 558.5,1093.4 559.5,1093.4 560.5,1080.4 561.5,1067.5 562.5,1082.6 563.5,1092.9 564.6,1071.8 565.6,1084.7 566.6,1094.7 567.6,1080.4 568.6,1060.1 569.6,1097.7 570.6,1097.7 571.6,1080.4 572.6,1067.5 573.6,1063.1 574.6,1097.3 575.6,1093.4 576.6,1089.1 577.6,1097.7 578.6,1089.1 579.6,1097.7 580.6,1080.4 581.6,1054.5 582.6,1097.7 583.6,1080.4 584.6,1063.1 585.6,1097.7 586.7,1084.7 587.7,1067.5 588.7,1045.9 589.7,1097.7 590.7,1073.9 591.7,1037.2 592.7,1067.5 593.7,1082.6 594.7,1096.8 595.7,1071.8 596.7,1041.5 597.7,1056.7 598.7,1067.5 599.7,1082.6 600.7,1097.7 601.7,1070.1 602.7,1095.5 603.7,1091.2 604.7,1098.6 605.7,1089.1 606.7,1076.1 607.7,1097.7 608.8,1087.8 609.8,1095.5 610.8,1097.7 611.8,1045.9 612.8,1084.7 613.8,1050.2 614.8,1076.1 615.8,1097.7 616.8,1072.2 617.8,1094.7 618.8,1067.5 619.8,1082.6 620.8,1093.8 621.8,1086.9 622.8,1080.4 623.8,1084.7 624.8,1091.2 625.8,1097.7 626.8,1093.4 627.8,1089.1 628.8,1085.6 629.8,1032.9 630.8,1071.8 631.9,1097.7 632.9,1077.8 633.9,1097.7 634.9,1071.8 635.9,1099.4 636.9,1085.6 637.9,1097.7 638.9,1078.3 639.9,1050.2 640.9,1086.9 641.9,1080.4 642.9,1076.1 643.9,1086.9 644.9,1071.3 645.9,1089.1 646.9,1089.1 647.9,1079.1 648.9,1084.7 649.9,1078.3 650.9,1071.8 651.9,1063.1 652.9,1058.8 654,1063.1 655,1069.6 656,1093.4 657,1067.5 658,1097.7" fill="none" stroke="#1f77b4" stroke-width="1.25" stroke-linejoin="round" stroke-linecap="square"/>
<polyline points="508.3,1104.2 509.3,1071.8 510.3,1079.1 511.3,1086 512.3,1084.7 513.3,1083.9 514.3,1103.3 515.3,1086.9 516.3,1071.3 517.3,1084.7 518.3,1096.8 519.3,1083 520.4,1087.8 521.4,1091.7 522.4,1073.9 523.4,1057.5 524.4,1084.7 525.4,1108.5 526.4,1093.4 527.4,1079.1 528.4,1089.1 529.4,1100.3 530.4,1076.5 531.4,1086.9 532.4,1061.4 533.4,1064.4 534.4,1078.3 535.4,1091.2 536.4,1100.7 537.4,1097.7 538.4,1095.5 539.4,1076.5 540.4,1096.4 541.4,1082.6 542.5,1070.5 543.5,1073.9 544.5,1086.9 545.5,1099 546.5,1084.7 547.5,1092.5 548.5,1100.3 549.5,1056.2 550.5,1080.4 551.5,1101.2 552.5,1078.3 553.5,1086.9 554.5,1097.7 555.5,1108.5 556.5,1074.8 557.5,1084.7 558.5,1091.7 559.5,1102.9 560.5,1082.6 561.5,1064.4 562.5,1078.3 563.5,1089.5 564.6,1070.1 565.6,1084.7 566.6,1099 567.6,1080.4 568.6,1061.4 569.6,1108.9 570.6,1105.5 571.6,1084.7 572.6,1071.8 573.6,1067 574.6,1097.3 575.6,1093.4 576.6,1089.5 577.6,1108.9 578.6,1086.9 579.6,1095.5 580.6,1080.4 581.6,1063.6 582.6,1096.4 583.6,1078.3 584.6,1058.4 585.6,1114.5 586.7,1095.5 587.7,1078.3 588.7,1060.5 589.7,1117.1 590.7,1086.9 591.7,1055.4 592.7,1073.9 593.7,1091.2 594.7,1106.8 595.7,1078.3 596.7,1048.5 597.7,1058.8 598.7,1061.4 599.7,1089.1 600.7,1115.4 601.7,1065.3 602.7,1084.7 603.7,1095.5 604.7,1103.7 605.7,1086.9 606.7,1068.8 607.7,1109.8 608.8,1083.9 609.8,1095.5 610.8,1106.8 611.8,1058.4 612.8,1082.1 613.8,1057.5 614.8,1099.9 615.8,1084.7 616.8,1070.5 617.8,1102.5 618.8,1064.4 619.8,1073.9 620.8,1083.9 621.8,1092.9 622.8,1075.7 623.8,1082.1 624.8,1089.1 625.8,1097.3 626.8,1086.9 627.8,1076.1 628.8,1065.3 629.8,1052.8 630.8,1086.9 631.9,1120.2 632.9,1077.8 633.9,1112.4 634.9,1065.7 635.9,1096.4 636.9,1082.6 637.9,1096.4 638.9,1080.4 639.9,1063.6 640.9,1082.1 641.9,1076.1 642.9,1071.3 643.9,1081.3 644.9,1063.1 645.9,1086 646.9,1080.4 647.9,1074.8 648.9,1076.1 649.9,1071.8 650.9,1065.3 651.9,1058.8 652.9,1056.2 654,1063.1 655,1071.8 656,1083.9 657,1065.7 658,1100.3" fill="none" stroke="#ff0000" stroke-width="1.25" stroke-linejoin="round" stroke-linecap="square"/>
<rect x="500.7" y="1027.9" width="164.5" height="96.2" fill="none" stroke="#8c8c8c" stroke-width="1.35"/>
<text transform="translate(508.3 1135.3) scale(1.1 1)" font-size="9.7" text-anchor="middle" fill="#1e1e1e">0</text>
<text transform="translate(558.5 1135.3) scale(1.1 1)" font-size="9.7" text-anchor="middle" fill="#1e1e1e">50</text>
<text transform="translate(608.8 1135.3) scale(1.1 1)" font-size="9.7" text-anchor="middle" fill="#1e1e1e">100</text>
<text transform="translate(659 1135.3) scale(1.1 1)" font-size="9.7" text-anchor="middle" fill="#1e1e1e">150</text>
<text transform="translate(497.2 1101.9) scale(1.1 1)" font-size="9.7" text-anchor="end" fill="#1e1e1e">0</text>
<text transform="translate(497.2 1058.7) scale(1.1 1)" font-size="9.7" text-anchor="end" fill="#1e1e1e">10</text>
<path d="M508.3 1124.1v1.8M558.5 1124.1v1.8M608.8 1124.1v1.8M659 1124.1v1.8M500.7 1097.7h-1.8M500.7 1054.5h-1.8" stroke="#8c8c8c" stroke-width="1.35" fill="none"/>
<text transform="translate(583 1025.3) scale(1.2 1)" font-size="9.9" text-anchor="middle" fill="#1e1e1e">Bus</text>
<text transform="translate(583 1146.1) scale(1.2 1)" font-size="9.0" text-anchor="middle" fill="#1e1e1e">Time (in Hours)</text>
<text transform="translate(476.5 1076) scale(1.2 1) rotate(-90)" font-size="9.0" text-anchor="middle" fill="#1e1e1e">Cost (in Rs)</text>
</g>
<g class="chart" id="glm-truck">
<polyline points="734,1113.9 735,1097.7 736,1097.7 737,1108.9 738,1094.9 739,1100.5 740,1106.1 741,1093.2 742,1111.6 743,1097.7 744,1094.9 745,1097.7 746.1,1103.8 747.1,1075.4 748.1,1047.5 749.1,1081 750.1,1108.9 751.1,1094.9 752.1,1081 753.1,1072.6 754.1,1092.1 755.1,1106.1 756.1,1092.1 757.1,1078.2 758.1,1070.4 759.1,1104.7 760.1,1092.1 761.1,1078.2 762.1,1069 763.1,1086.6 764.1,1072.6 765.1,1106.1 766.1,1092.4 767.1,1106.1 768.2,1100.5 769.2,1097.7 770.2,1103.3 771.2,1097.7 772.2,1078.2 773.2,1061.5 774.2,1091.6 775.2,1075.4 776.2,1053.1 777.2,1099.9 778.2,1094.9 779.2,1100.5 780.2,1084.9 781.2,1108.9 782.2,1087.1 783.2,1102.2 784.2,1110.2 785.2,1119.2 786.2,1108.9 787.2,1097.7 788.2,1089.3 789.2,1108.9 790.3,1092.4 791.3,1099.9 792.3,1091.6 793.3,1099.1 794.3,1104.7 795.3,1106.1 796.3,1110.8 797.3,1100.5 798.3,1089.3 799.3,1079 800.3,1106.9 801.3,1100.2 802.3,1106.1 803.3,1084.3 804.3,1086.6 805.3,1078.2 806.3,1090.7 807.3,1067 808.3,1102.4 809.3,1050.3 810.3,1081 811.3,1103.3 812.4,1086.6 813.4,1077.9 814.4,1090.7 815.4,1097.7 816.4,1110.8 817.4,1075.7 818.4,1097.7 819.4,1117.2 820.4,1106.1 821.4,1092.1 822.4,1072.6 823.4,1113.6 824.4,1108.9 825.4,1104.7 826.4,1101.3 827.4,1092.1 828.4,1081 829.4,1097.7 830.4,1107.5 831.4,1094.9 832.4,1111.9 833.4,1086.6 834.5,1069.6 835.5,1073.2 836.5,1111.9 837.5,1077.4 838.5,1102.2 839.5,1072.6 840.5,1104.7 841.5,1086.6 842.5,1093.5 843.5,1099.1 844.5,1103.8 845.5,1099.1 846.5,1094.9 847.5,1081 848.5,1105.5 849.5,1100.5 850.5,1097.7 851.5,1092.1 852.5,1103.3 853.5,1111.9 854.5,1083.8 855.5,1056.7 856.5,1111.6 857.6,1101.9 858.6,1096 859.6,1097.7 860.6,1096.3 861.6,1090.2 862.6,1100.5 863.6,1103.3 864.6,1111.6 865.6,1033.6 866.6,1067 867.6,1094.1 868.6,1084.3 869.6,1096.3 870.6,1102.2 871.6,1096.3 872.6,1089.6 873.6,1102.2 874.6,1078.2 875.6,1094.9 876.6,1109.1 877.6,1076 878.6,1114.4 879.7,1058.7 880.7,1108.9 881.7,1086.6 882.7,1061.5 883.7,1081" fill="none" stroke="#1f77b4" stroke-width="1.25" stroke-linejoin="round" stroke-linecap="square"/>
<polyline points="734,1113.9 735,1099.1 736,1100.5 737,1108.3 738,1094.9 739,1100.5 740,1104.7 741,1093.2 742,1110.5 743,1097.7 744,1094.9 745,1097.7 746.1,1103.8 747.1,1075.4 748.1,1048.4 749.1,1081 750.1,1107.7 751.1,1094.9 752.1,1081 753.1,1075.7 754.1,1092.1 755.1,1105.2 756.1,1092.1 757.1,1078.2 758.1,1070.4 759.1,1104.7 760.1,1092.1 761.1,1078.2 762.1,1069 763.1,1085.4 764.1,1078.2 765.1,1105.5 766.1,1092.4 767.1,1106.1 768.2,1100.5 769.2,1097.7 770.2,1102.4 771.2,1097.7 772.2,1078.2 773.2,1061.5 774.2,1091.6 775.2,1075.4 776.2,1056.2 777.2,1099.9 778.2,1094.9 779.2,1100.5 780.2,1084.9 781.2,1107.7 782.2,1087.1 783.2,1102.2 784.2,1110.2 785.2,1119.2 786.2,1108.9 787.2,1097.7 788.2,1089.3 789.2,1107.7 790.3,1092.4 791.3,1099.9 792.3,1091.6 793.3,1099.1 794.3,1104.7 795.3,1106.1 796.3,1110.8 797.3,1100.5 798.3,1089.3 799.3,1079 800.3,1106.9 801.3,1100.2 802.3,1106.1 803.3,1084.3 804.3,1086.6 805.3,1079 806.3,1090.7 807.3,1071.2 808.3,1102.4 809.3,1057.6 810.3,1081 811.3,1102.4 812.4,1086.6 813.4,1077.9 814.4,1086.6 815.4,1097.7 816.4,1110.8 817.4,1075.7 818.4,1097.7 819.4,1117.2 820.4,1106.1 821.4,1092.1 822.4,1081.8 823.4,1110 824.4,1108.9 825.4,1104.7 826.4,1100.5 827.4,1092.1 828.4,1081.8 829.4,1097.7 830.4,1107.5 831.4,1094.9 832.4,1111.9 833.4,1086.6 834.5,1069.6 835.5,1073.2 836.5,1111.9 837.5,1077.4 838.5,1102.2 839.5,1078.2 840.5,1104.7 841.5,1087.9 842.5,1093.5 843.5,1099.1 844.5,1103.8 845.5,1099.1 846.5,1094.9 847.5,1083.8 848.5,1105.5 849.5,1100.5 850.5,1097.7 851.5,1093.2 852.5,1103.3 853.5,1111.9 854.5,1083.8 855.5,1056.7 856.5,1109.1 857.6,1101.9 858.6,1096 859.6,1097.7 860.6,1096.3 861.6,1090.2 862.6,1097.7 863.6,1103.3 864.6,1109.1 865.6,1036.9 866.6,1067 867.6,1094.1 868.6,1089.3 869.6,1096.3 870.6,1102.2 871.6,1096.3 872.6,1089.6 873.6,1102.2 874.6,1078.2 875.6,1094.9 876.6,1109.1 877.6,1076 878.6,1113 879.7,1092.4 880.7,1107.5 881.7,1086.6 882.7,1062.3 883.7,1081" fill="none" stroke="#ff0000" stroke-width="1.25" stroke-linejoin="round" stroke-linecap="square"/>
<rect x="726.5" y="1027.9" width="164.4" height="96.2" fill="none" stroke="#8c8c8c" stroke-width="1.35"/>
<text transform="translate(734 1135.3) scale(1.1 1)" font-size="9.7" text-anchor="middle" fill="#1e1e1e">0</text>
<text transform="translate(784.2 1135.3) scale(1.1 1)" font-size="9.7" text-anchor="middle" fill="#1e1e1e">50</text>
<text transform="translate(834.5 1135.3) scale(1.1 1)" font-size="9.7" text-anchor="middle" fill="#1e1e1e">100</text>
<text transform="translate(884.7 1135.3) scale(1.1 1)" font-size="9.7" text-anchor="middle" fill="#1e1e1e">150</text>
<text transform="translate(723 1124.2) scale(1.1 1)" font-size="9.7" text-anchor="end" fill="#1e1e1e">0</text>
<text transform="translate(723 1096.4) scale(1.1 1)" font-size="9.7" text-anchor="end" fill="#1e1e1e">10</text>
<text transform="translate(723 1068.5) scale(1.1 1)" font-size="9.7" text-anchor="end" fill="#1e1e1e">20</text>
<text transform="translate(723 1040.6) scale(1.1 1)" font-size="9.7" text-anchor="end" fill="#1e1e1e">30</text>
<path d="M734 1124.1v1.8M784.2 1124.1v1.8M834.5 1124.1v1.8M884.7 1124.1v1.8M726.5 1120h-1.8M726.5 1092.1h-1.8M726.5 1064.3h-1.8M726.5 1036.4h-1.8" stroke="#8c8c8c" stroke-width="1.35" fill="none"/>
<text transform="translate(808.7 1025.3) scale(1.2 1)" font-size="9.9" text-anchor="middle" fill="#1e1e1e">Truck</text>
<text transform="translate(808.7 1146.1) scale(1.2 1)" font-size="9.0" text-anchor="middle" fill="#1e1e1e">Time (in Hours)</text>
<text transform="translate(703.5 1076) scale(1.2 1) rotate(-90)" font-size="9.0" text-anchor="middle" fill="#1e1e1e">Cost (in Rs)</text>
</g>
<g class="legend">
<rect x="382.6" y="1159.9" width="165.8" height="38.1" rx="2.5" ry="2.5" fill="#ffffff" fill-opacity="0.8" stroke="#dcdcdc" stroke-width="1"/>
<line x1="386.5" y1="1169.6" x2="415.2" y2="1169.6" stroke="#1f77b4" stroke-width="1.45"/>
<text transform="translate(425.1 1173.8) scale(1.2 1)" font-size="10.95" text-anchor="start" fill="#1e1e1e">EXPECTED_COST</text>
<line x1="386.5" y1="1186.8" x2="415.2" y2="1186.8" stroke="#ff0000" stroke-width="1.45"/>
<text transform="translate(425.1 1190.7) scale(1.2 1)" font-size="10.95" text-anchor="start" fill="#1e1e1e">PREDICTED_COST</text>
</g>
<text class="lab" transform="translate(24.3 705.1) scale(1 1.09)" font-family="'Liberation Serif',serif" font-weight="bold" font-size="20.5" fill="#000">SVM</text>
<text class="lab" transform="translate(28.4 1000.6) scale(1 1.02)" font-family="'Liberation Serif',serif" font-weight="bold" font-size="20.8" fill="#000">GLM</text>
</svg>
</body>
</html>
